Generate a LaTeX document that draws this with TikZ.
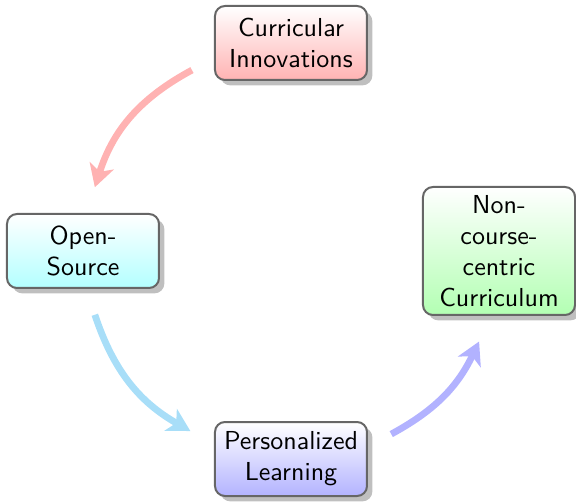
\documentclass[tikz,border=0pt]{standalone}
\usetikzlibrary{arrows.meta,shadows}
\definecolor{skyflow}{RGB}{168,222,248}
\begin{document}
\begin{tikzpicture}[
        module/.style={draw=gray!80!black, line width=0.8pt, rounded corners=4pt,
            top color=white, bottom color=#1, drop shadow,
            minimum width=60.8pt, minimum height=29.6pt, align=center,
            font=\sffamily\fontsize{10.4}{12.4}\selectfont},
        flow/.style={line width=2.7pt, draw=#1,
            -{Stealth[length=9pt,width=10pt,inset=2.5pt]}}
    ]
    \useasboundingbox (-116.4pt,-100.4pt) rectangle (114pt,100.4pt);
    % the four modules round the circle
    \node[module=red!30] (inno) at (90:83.2pt) {Curricular\\Innovations};
    \node[module=cyan!30] (open) at (180:83.2pt) {Open-\\Source};
    \node[module=blue!30] (perso) at (270:83.2pt) {Personalized\\Learning};
    \node[module=green!30, minimum height=51.2pt] (noncourse) at (0:83.2pt)
        {Non-\\course-\\centric\\Curriculum};
    % arrow ends on the circle
    \coordinate (inno-out) at (118.7:82.5pt);
    \coordinate (open-in) at (162:82.5pt);
    \coordinate (open-out) at (198:82.5pt);
    \coordinate (perso-in) at (240.8:82.5pt);
    \coordinate (perso-out) at (298.7:83.5pt);
    \coordinate (noncourse-in) at (334.3:83.5pt);
    \draw[flow=red!30] (inno-out) to[bend right=22] (open-in);
    \draw[flow=skyflow] (open-out) to[bend right=21] (perso-in);
    \draw[flow=blue!30] (perso-out) to[bend right=18] (noncourse-in);
\end{tikzpicture}
\end{document}
